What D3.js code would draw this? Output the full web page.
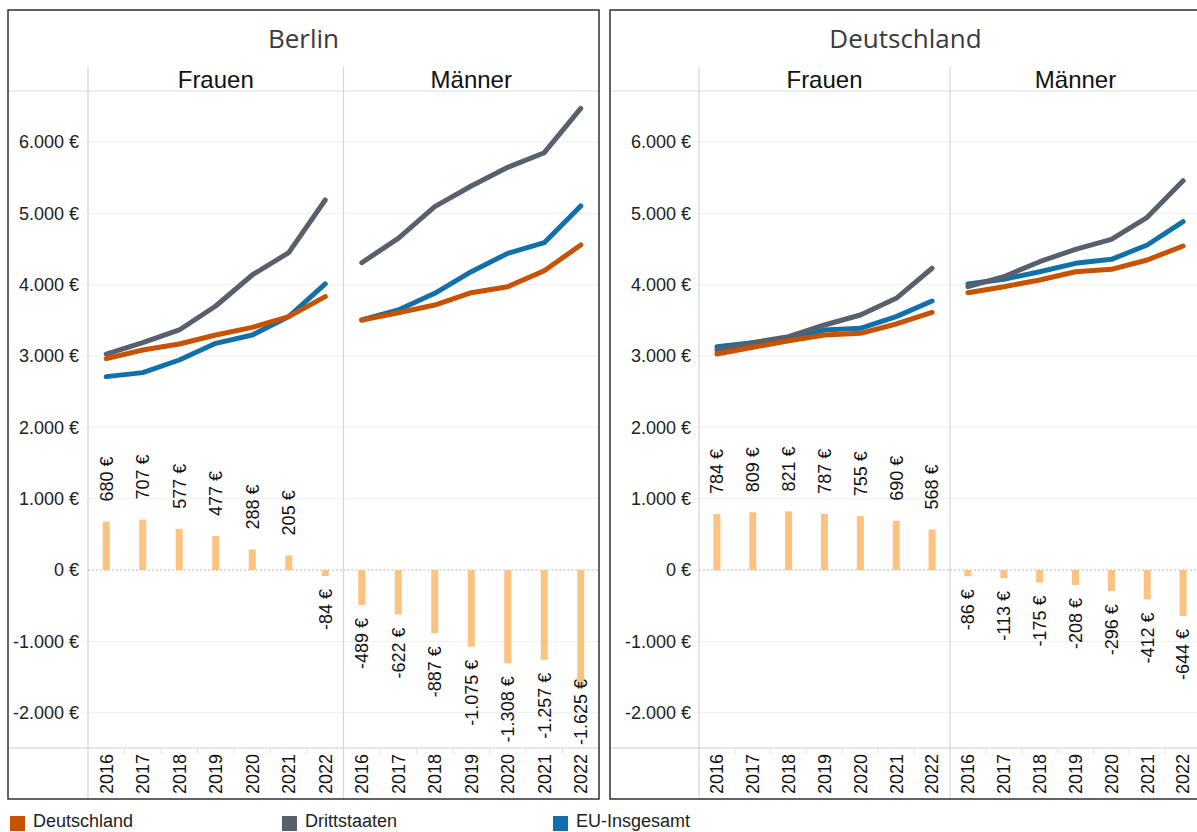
<!DOCTYPE html>
<html>
<head>
<meta charset="utf-8">
<script src="https://cdn.jsdelivr.net/npm/d3@7"></script>
<style>
  html, body { margin: 0; padding: 0; background: #fff; }
  svg { display: block; }
</style>
</head>
<body>
<svg id="chart" width="1197" height="832"></svg>
<script>
// Monthly gross earnings by nationality group, 2016–2022
const years = ["2016", "2017", "2018", "2019", "2020", "2021", "2022"];
const regions = ["Berlin", "Deutschland"];
const sexes = ["Frauen", "Männer"];
const seriesNames = ["Deutschland", "Drittstaaten", "EU-Insgesamt"];
const yTicks = [-2000, -1000, 0, 1000, 2000, 3000, 4000, 5000, 6000];

// Berlin, Frauen
const berlinFrauenDeutschland = [2963, 3084, 3168, 3294, 3402, 3552, 3832];
const berlinFrauenDrittstaaten = [3028, 3187, 3365, 3701, 4136, 4449, 5187];
const berlinFrauenEU = [2711, 2767, 2944, 3178, 3294, 3552, 4010];
const berlinFrauenDiff = [680, 707, 577, 477, 288, 205, -84];

// Berlin, Männer
const berlinMaennerDeutschland = [3505, 3607, 3715, 3888, 3972, 4196, 4556];
const berlinMaennerDrittstaaten = [4308, 4650, 5094, 5383, 5645, 5850, 6472];
const berlinMaennerEU = [3505, 3645, 3879, 4182, 4439, 4589, 5103];
const berlinMaennerDiff = [-489, -622, -887, -1075, -1308, -1257, -1625];

// Deutschland, Frauen
const deFrauenDeutschland = [3028, 3122, 3215, 3294, 3318, 3449, 3612];
const deFrauenDrittstaaten = [3084, 3187, 3271, 3435, 3575, 3809, 4230];
const deFrauenEU = [3131, 3187, 3248, 3365, 3388, 3552, 3771];
const deFrauenDiff = [784, 809, 821, 787, 755, 690, 568];

// Deutschland, Männer
const deMaennerDeutschland = [3888, 3972, 4065, 4182, 4215, 4346, 4542];
const deMaennerDrittstaaten = [3972, 4112, 4322, 4496, 4636, 4944, 5458];
const deMaennerEU = [4010, 4075, 4182, 4299, 4355, 4556, 4883];
const deMaennerDiff = [-86, -113, -175, -208, -296, -412, -644];

const panels = [
  { region: regions[0], facets: [
    { sex: sexes[0], lines: [berlinFrauenDeutschland, berlinFrauenDrittstaaten, berlinFrauenEU], diff: berlinFrauenDiff },
    { sex: sexes[1], lines: [berlinMaennerDeutschland, berlinMaennerDrittstaaten, berlinMaennerEU], diff: berlinMaennerDiff }
  ]},
  { region: regions[1], facets: [
    { sex: sexes[0], lines: [deFrauenDeutschland, deFrauenDrittstaaten, deFrauenEU], diff: deFrauenDiff },
    { sex: sexes[1], lines: [deMaennerDeutschland, deMaennerDrittstaaten, deMaennerEU], diff: deMaennerDiff }
  ]}
];

const lineColor = d3.scaleOrdinal().domain(seriesNames).range(["#C85200", "#57606C", "#1170AA"]);
const barColor = "#FCC27F";
// drawing order: EU underneath, national on top
const drawOrder = [2, 1, 0];

const de = d3.formatLocale({ decimal: ",", thousands: ".", grouping: [3], currency: ["", " €"], minus: "-" });
const euro = v => de.format(",d")(v) + " €";

const svg = d3.select("#chart");
const font = "'Liberation Sans', Arial, sans-serif";

// layout: each panel has its own frame and y-axis column
const panelFrames = [
  { left: 8, axisW: 80, labelGap: 9 },
  { left: 610, axisW: 89, labelGap: 8 }
];
const panelW = 591;
const frameTop = 10, frameBottom = 799;
const headerLine = 91, plotBottom = 748;

const y = d3.scaleLinear().domain([-2495, 6715]).range([plotBottom, headerLine]);

panels.forEach((panel, pi) => {
  const { left, axisW, labelGap } = panelFrames[pi];
  const facetW = (panelW - axisW) / 2;
  const g = svg.append("g");

  // grid lines
  g.selectAll("line.grid").data(yTicks.filter(t => t !== 0)).join("line")
    .attr("x1", left + axisW - 6).attr("x2", left + panelW)
    .attr("y1", d => y(d)).attr("y2", d => y(d))
    .attr("stroke", "#efefef").attr("stroke-width", 1);

  // y tick labels
  g.selectAll("text.ytick").data(yTicks).join("text")
    .attr("x", left + axisW - labelGap).attr("y", d => y(d)).attr("dy", "0.35em")
    .attr("text-anchor", "end").attr("font-family", font).attr("font-size", 18)
    .attr("fill", "#222").text(d => euro(d));

  // header and axis separators
  g.append("line").attr("x1", left).attr("x2", left + panelW)
    .attr("y1", headerLine).attr("y2", headerLine).attr("stroke", "#dcdcdc");
  g.append("line").attr("x1", left).attr("x2", left + panelW)
    .attr("y1", plotBottom).attr("y2", plotBottom).attr("stroke", "#cfcfcf");

  // facet dividers
  [0, 1].forEach(i => {
    const fx = left + axisW + i * facetW;
    g.append("line").attr("x1", fx).attr("x2", fx).attr("y1", 67).attr("y2", frameBottom)
      .attr("stroke", "#d6d6d6").attr("stroke-width", 1.2);
  });

  // region title
  g.append("text").attr("x", left + panelW / 2).attr("y", 48)
    .attr("text-anchor", "middle").attr("font-family", "'Open Sans', sans-serif")
    .attr("font-size", 26).attr("fill", "#3a3a3a").text(panel.region);

  panel.facets.forEach((facet, fi) => {
    const fx0 = left + axisW + fi * facetW;
    const x = d3.scaleBand().domain(years).range([fx0, fx0 + facetW]);
    const cx = d => x(d) + x.bandwidth() / 2;
    const fg = g.append("g");

    fg.append("text").attr("x", fx0 + facetW / 2).attr("y", 88)
      .attr("text-anchor", "middle").attr("font-family", font).attr("font-size", 24)
      .attr("fill", "#111").text(facet.sex);

    // zero line
    fg.append("line").attr("x1", fx0).attr("x2", fx0 + facetW)
      .attr("y1", y(0)).attr("y2", y(0))
      .attr("stroke", "#b5b5b5").attr("stroke-dasharray", "2,2");

    // small separators between year bands on the axis
    fg.selectAll("line.band").data(years.slice(1)).join("line")
      .attr("x1", d => x(d)).attr("x2", d => x(d))
      .attr("y1", plotBottom).attr("y2", plotBottom + 6)
      .attr("stroke", "#e4e4e4");

    // year labels
    fg.selectAll("text.year").data(years).join("text")
      .attr("transform", d => `translate(${cx(d)},${plotBottom + 6}) rotate(-90)`)
      .attr("dy", "0.35em").attr("text-anchor", "end")
      .attr("font-family", font).attr("font-size", 18).attr("fill", "#111")
      .text(d => d);

    // difference bars
    const bw = 7;
    fg.selectAll("rect.bar").data(facet.diff).join("rect")
      .attr("x", (d, i) => cx(years[i]) - bw / 2)
      .attr("y", d => y(Math.max(0, d)))
      .attr("width", bw)
      .attr("height", d => Math.abs(y(d) - y(0)))
      .attr("fill", barColor);

    // earnings lines
    const line = d3.line().x((d, i) => cx(years[i])).y(d => y(d));
    drawOrder.forEach(si => {
      fg.append("path").datum(facet.lines[si])
        .attr("d", line).attr("fill", "none")
        .attr("stroke", lineColor(seriesNames[si])).attr("stroke-width", 5)
        .attr("stroke-linecap", "round").attr("stroke-linejoin", "round");
    });

    // bar value labels
    fg.selectAll("text.val").data(facet.diff).join("text")
      .attr("font-family", font).attr("font-size", 18).attr("fill", "#111")
      .attr("dy", "0.35em")
      .text(d => euro(d))
      .each(function (d, i) {
        const t = d3.select(this);
        const len = this.getComputedTextLength();
        const px = cx(years[i]);
        if (d >= 0) {
          t.attr("text-anchor", "start")
            .attr("transform", `translate(${px},${y(d) - 20}) rotate(-90)`);
        } else {
          let start = y(d) + 13;
          if (start + len > plotBottom - 3) start = plotBottom - 3 - len;
          t.attr("text-anchor", "end")
            .attr("transform", `translate(${px},${start}) rotate(-90)`);
        }
      });
  });

  // panel border
  g.append("rect").attr("x", left).attr("y", frameTop)
    .attr("width", panelW).attr("height", frameBottom - frameTop)
    .attr("fill", "none").attr("stroke", "#222").attr("stroke-width", 1.4);
});

// legend
const legendX = [10, 282, 553];
const lg = svg.append("g");
seriesNames.forEach((name, i) => {
  lg.append("rect").attr("x", legendX[i]).attr("y", 816).attr("width", 15).attr("height", 15)
    .attr("fill", lineColor(name));
  lg.append("text").attr("x", legendX[i] + 23).attr("y", 827)
    .attr("font-family", font).attr("font-size", 18).attr("fill", "#222").text(name);
});
</script>
</body>
</html>
